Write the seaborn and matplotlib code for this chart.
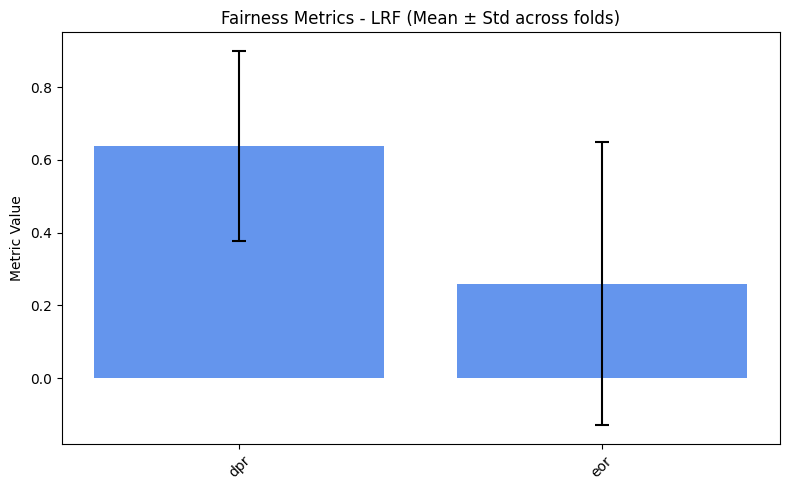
import matplotlib
matplotlib.use('Agg')
import pandas as pd
import matplotlib.pyplot as plt
import seaborn as sns

metrics = ['dpr', 'eor']
means = [0.638, 0.260]
stds = [0.261, 0.389]

df = pd.DataFrame({'metric': metrics, 'mean': means, 'std': stds})

fig, ax = plt.subplots(figsize=(7.89, 4.9), dpi=100)
sns.barplot(data=df, x='metric', y='mean', color='cornflowerblue', saturation=1,
            errorbar=None, width=0.8, ax=ax)
ax.errorbar(range(len(df)), df['mean'], yerr=df['std'], fmt='none',
            ecolor='black', capsize=5, elinewidth=1.5, capthick=1.5)
ax.set_title('Fairness Metrics - LRF (Mean ± Std across folds)')
ax.set_xlabel('')
ax.set_ylabel('Metric Value')
ax.tick_params(axis='x', rotation=45)
plt.subplots_adjust(left=0.078, right=0.988, top=0.934, bottom=0.094)
plt.savefig('out.png', dpi=100)
